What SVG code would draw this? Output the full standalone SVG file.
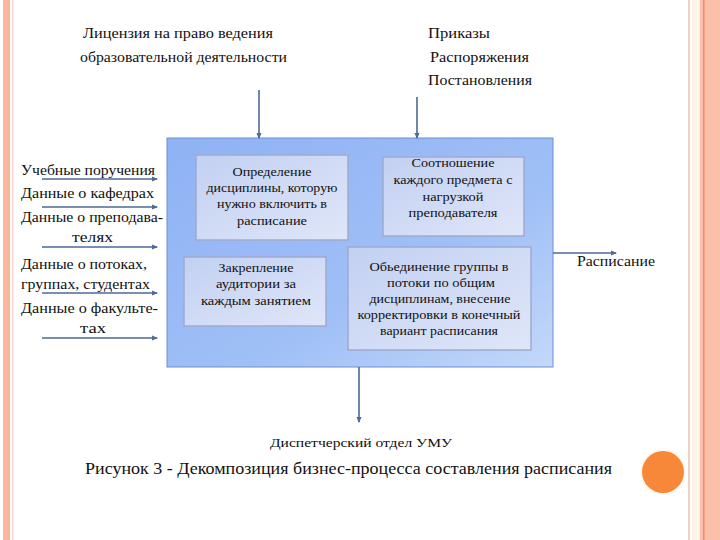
<svg xmlns="http://www.w3.org/2000/svg" width="720" height="540" viewBox="0 0 720 540" font-family="'Liberation Serif', 'Times New Roman', 'DejaVu Serif', serif">
<defs>
<linearGradient id="big" x1="0" y1="0" x2="1" y2="1">
<stop offset="0" stop-color="#8fb2f4"/>
<stop offset="0.6" stop-color="#9fbff6"/>
<stop offset="1" stop-color="#c4d8fa"/>
</linearGradient>
<linearGradient id="inner" x1="0" y1="0" x2="1" y2="1">
<stop offset="0" stop-color="#c2d0f2"/>
<stop offset="1" stop-color="#dfe6f8"/>
</linearGradient>
<marker id="ah" viewBox="0 0 6 6" refX="5" refY="3" markerWidth="4" markerHeight="4" orient="auto">
<path d="M0,0.5 L6,3 L0,5.5 z" fill="#4d6a98"/>
</marker>
<style>
text{fill:#111}
.lbl{font-size:14.5px}
.box{font-size:13px;text-anchor:middle}
.node rect{fill:url(#inner);stroke:#9eabcf;stroke-width:1.5}
.conn line{stroke:#4d6a98;stroke-width:1.6;marker-end:url(#ah)}
</style>
</defs>
<rect width="720" height="540" fill="#ffffff"/>
<rect x="3" y="0" width="7" height="540" fill="#fab79d"/>
<rect x="12" y="0" width="1.5" height="540" fill="#f6d8cc"/>
<rect x="688" y="0" width="2" height="540" fill="#ead2c4"/>
<rect x="692" y="0" width="8" height="540" fill="#fff4ea"/>
<rect x="700" y="0" width="20" height="540" fill="#fcc0aa"/>
<rect x="703" y="0" width="1.5" height="540" fill="#f08a6c"/>
<g id="process">
<rect x="167" y="138" width="386" height="229" fill="url(#big)" stroke="#6c8fce" stroke-width="1"/>
</g>
<g id="n1" class="node">
<rect x="196" y="155" width="152" height="85"/>
<text class="box" x="272" y="176" textLength="79" lengthAdjust="spacingAndGlyphs">Определение</text>
<text class="box" x="272" y="192" textLength="131" lengthAdjust="spacingAndGlyphs">дисциплины, которую</text>
<text class="box" x="272" y="208" textLength="110" lengthAdjust="spacingAndGlyphs">нужно включить в</text>
<text class="box" x="272" y="225" textLength="70" lengthAdjust="spacingAndGlyphs">расписание</text>
</g>
<g id="n2" class="node">
<rect x="184" y="257" width="142" height="69"/>
<text class="box" x="256" y="272" textLength="75" lengthAdjust="spacingAndGlyphs">Закрепление</text>
<text class="box" x="256" y="288" textLength="80" lengthAdjust="spacingAndGlyphs">аудитории за</text>
<text class="box" x="256" y="305" textLength="110" lengthAdjust="spacingAndGlyphs">каждым занятием</text>
</g>
<g id="n3" class="node">
<rect x="383" y="157" width="141" height="79"/>
<text class="box" x="453" y="167" textLength="83" lengthAdjust="spacingAndGlyphs">Соотношение</text>
<text class="box" x="453" y="184" textLength="119" lengthAdjust="spacingAndGlyphs">каждого предмета с</text>
<text class="box" x="453" y="201" textLength="61" lengthAdjust="spacingAndGlyphs">нагрузкой</text>
<text class="box" x="453" y="217" textLength="89" lengthAdjust="spacingAndGlyphs">преподавателя</text>
</g>
<g id="n4" class="node">
<rect x="348" y="247" width="183" height="103"/>
<text class="box" x="439" y="271" textLength="139" lengthAdjust="spacingAndGlyphs">Обьединение группы в</text>
<text class="box" x="441" y="287" textLength="108" lengthAdjust="spacingAndGlyphs">потоки по общим</text>
<text class="box" x="440" y="303" textLength="141" lengthAdjust="spacingAndGlyphs">дисциплинам, внесение</text>
<text class="box" x="439" y="319" textLength="163" lengthAdjust="spacingAndGlyphs">корректировки в конечный</text>
<text class="box" x="439" y="335" textLength="118" lengthAdjust="spacingAndGlyphs">вариант расписания</text>
</g>
<g id="controls" class="lbl">
<text x="83" y="38" textLength="190" lengthAdjust="spacingAndGlyphs">Лицензия на право ведения</text>
<text x="80" y="62" textLength="207" lengthAdjust="spacingAndGlyphs">образовательной деятельности</text>
<text x="428" y="38" textLength="62" lengthAdjust="spacingAndGlyphs">Приказы</text>
<text x="430" y="62" textLength="99" lengthAdjust="spacingAndGlyphs">Распоряжения</text>
<text x="428" y="85" textLength="104" lengthAdjust="spacingAndGlyphs">Постановления</text>
</g>
<g id="inputs" class="lbl">
<text x="21" y="175" textLength="134" lengthAdjust="spacingAndGlyphs">Учебные поручения</text>
<text x="21" y="198" textLength="133" lengthAdjust="spacingAndGlyphs">Данные о кафедрах</text>
<text x="21" y="222" textLength="142" lengthAdjust="spacingAndGlyphs">Данные о преподава-</text>
<text x="72" y="242" textLength="41" lengthAdjust="spacingAndGlyphs">телях</text>
<text x="21" y="269" textLength="126" lengthAdjust="spacingAndGlyphs">Данные о потоках,</text>
<text x="21" y="289" textLength="129" lengthAdjust="spacingAndGlyphs">группах, студентах</text>
<text x="21" y="313" textLength="137" lengthAdjust="spacingAndGlyphs">Данные о факульте-</text>
<text x="80" y="333" textLength="26" lengthAdjust="spacingAndGlyphs">тах</text>
</g>
<g id="output" class="lbl">
<text x="577" y="266" textLength="78" lengthAdjust="spacingAndGlyphs">Расписание</text>
</g>
<g id="mechanism">
<text x="270" y="447" font-size="13.5" textLength="182" lengthAdjust="spacingAndGlyphs">Диспетчерский отдел УМУ</text>
</g>
<g id="caption">
<text x="85" y="474" font-size="17" textLength="527" lengthAdjust="spacingAndGlyphs">Рисунок 3 - Декомпозиция бизнес-процесса составления расписания</text>
</g>
<g id="connectors" class="conn">
<line x1="259" y1="90" x2="259" y2="138"/>
<line x1="417" y1="97" x2="417" y2="138"/>
<line x1="42" y1="179" x2="157" y2="179"/>
<line x1="42" y1="207" x2="157" y2="207"/>
<line x1="42" y1="247" x2="157" y2="247"/>
<line x1="42" y1="293" x2="157" y2="293"/>
<line x1="42" y1="338" x2="157" y2="338"/>
<line x1="553" y1="253" x2="616" y2="253"/>
<line x1="359" y1="367" x2="359" y2="422"/>
</g>
<circle cx="663" cy="472" r="23" fill="#fef0e6" opacity="0.6"/>
<circle cx="663" cy="472" r="21" fill="#f7883a"/>
</svg>
